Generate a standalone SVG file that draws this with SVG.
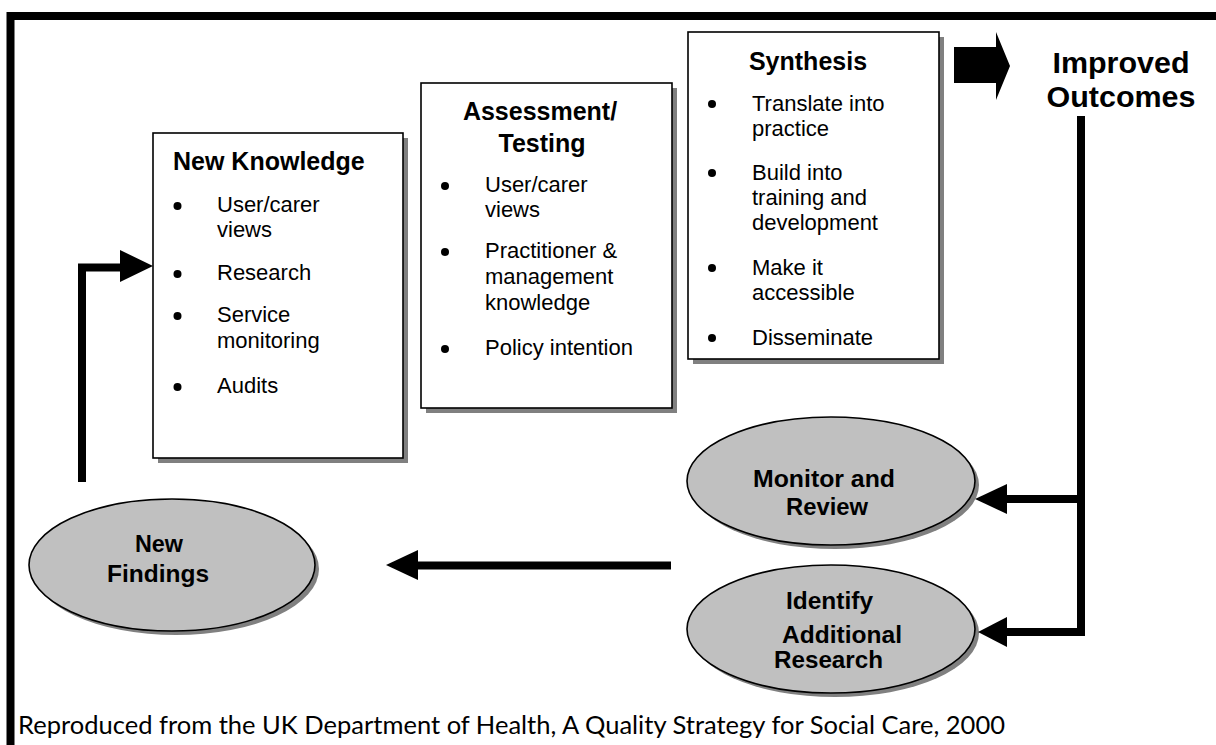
<svg xmlns="http://www.w3.org/2000/svg" width="1216" height="745" viewBox="0 0 1216 745">
  <style>
    .box { fill: #ffffff; stroke: #000000; stroke-width: 1.6; }
    .shadow { fill: #808080; }
    .oval { fill: #c0c0c0; stroke: #000000; stroke-width: 1.6; }
    .title { font-family: "Liberation Sans", Arial, sans-serif; font-weight: bold; font-size: 25px; fill: #000; }
    .item { font-family: "Liberation Sans", Arial, sans-serif; font-size: 22px; fill: #000; }
    .olabel { font-family: "Liberation Sans", Arial, sans-serif; font-weight: bold; font-size: 24px; fill: #000; }
    .big { font-family: "Liberation Sans", Arial, sans-serif; font-weight: bold; font-size: 29px; fill: #000; }
    .note { font-family: "Lato", "Liberation Sans", sans-serif; font-size: 25px; fill: #000; }
    .wire { fill: none; stroke: #000000; stroke-width: 8; }
    .head { fill: #000000; }
  </style>

  <rect width="1216" height="745" fill="#ffffff"/>

  <!-- page frame -->
  <path d="M10.5 745 V16 H1216" fill="none" stroke="#000" stroke-width="8"/>

  <!-- New Knowledge -->
  <g id="new-knowledge">
    <rect class="shadow" x="158" y="138" width="250" height="325"/>
    <rect class="box" x="153" y="133" width="250" height="325"/>
    <text class="title" x="173" y="170">New Knowledge</text>
    <circle cx="177.5" cy="206" r="4"/>
    <text class="item" x="217" y="212">User/carer</text>
    <text class="item" x="217" y="237">views</text>
    <circle cx="177.5" cy="274" r="4"/>
    <text class="item" x="217" y="280">Research</text>
    <circle cx="177.5" cy="316" r="4"/>
    <text class="item" x="217" y="322">Service</text>
    <text class="item" x="217" y="348">monitoring</text>
    <circle cx="177.5" cy="387" r="4"/>
    <text class="item" x="217" y="393">Audits</text>
  </g>

  <!-- Assessment / Testing -->
  <g id="assessment">
    <rect class="shadow" x="426" y="88" width="251" height="325"/>
    <rect class="box" x="421" y="83" width="251" height="325"/>
    <text class="title" x="540" y="120" text-anchor="middle">Assessment/</text>
    <text class="title" x="542" y="152" text-anchor="middle">Testing</text>
    <circle cx="445" cy="186" r="4"/>
    <text class="item" x="485" y="192">User/carer</text>
    <text class="item" x="485" y="217">views</text>
    <circle cx="445" cy="252" r="4"/>
    <text class="item" x="485" y="258">Practitioner &amp;</text>
    <text class="item" x="485" y="284">management</text>
    <text class="item" x="485" y="310">knowledge</text>
    <circle cx="445" cy="349" r="4"/>
    <text class="item" x="485" y="355">Policy intention</text>
  </g>

  <!-- Synthesis -->
  <g id="synthesis">
    <rect class="shadow" x="693" y="37" width="251" height="327"/>
    <rect class="box" x="688" y="32" width="251" height="327"/>
    <text class="title" x="808" y="70" text-anchor="middle" font-size="24">Synthesis</text>
    <circle cx="712" cy="104" r="4"/>
    <text class="item" x="752" y="111">Translate into</text>
    <text class="item" x="752" y="136">practice</text>
    <circle cx="712" cy="173" r="4"/>
    <text class="item" x="752" y="180">Build into</text>
    <text class="item" x="752" y="205">training and</text>
    <text class="item" x="752" y="230">development</text>
    <circle cx="712" cy="268" r="4"/>
    <text class="item" x="752" y="275">Make it</text>
    <text class="item" x="752" y="300">accessible</text>
    <circle cx="712" cy="338" r="4"/>
    <text class="item" x="752" y="345">Disseminate</text>
  </g>

  <!-- Improved Outcomes -->
  <g id="improved-outcomes">
    <text class="big" x="1121" y="73" text-anchor="middle" textLength="137" lengthAdjust="spacingAndGlyphs">Improved</text>
    <text class="big" x="1121" y="107" text-anchor="middle" textLength="149" lengthAdjust="spacingAndGlyphs">Outcomes</text>
  </g>

  <!-- Monitor and Review -->
  <g id="monitor-review">
    <ellipse class="shadow" cx="835" cy="485" rx="144" ry="64"/>
    <ellipse class="oval" cx="831" cy="481" rx="144" ry="64"/>
    <text class="olabel" x="753" y="487" textLength="142" lengthAdjust="spacingAndGlyphs">Monitor and</text>
    <text class="olabel" x="786" y="515" textLength="82" lengthAdjust="spacingAndGlyphs">Review</text>
  </g>

  <!-- Identify Additional Research -->
  <g id="identify-research">
    <ellipse class="shadow" cx="835" cy="633" rx="144" ry="64"/>
    <ellipse class="oval" cx="831" cy="629" rx="144" ry="64"/>
    <text class="olabel" x="786" y="609" textLength="87" lengthAdjust="spacingAndGlyphs">Identify</text>
    <text class="olabel" x="782" y="643" font-size="22" textLength="120" lengthAdjust="spacingAndGlyphs">Additional</text>
    <text class="olabel" x="774" y="668" font-size="22" textLength="109" lengthAdjust="spacingAndGlyphs">Research</text>
  </g>

  <!-- New Findings -->
  <g id="new-findings">
    <ellipse class="shadow" cx="176" cy="569" rx="143" ry="66"/>
    <ellipse class="oval" cx="172" cy="565" rx="143" ry="66"/>
    <text class="olabel" x="135" y="552" textLength="48" lengthAdjust="spacingAndGlyphs">New</text>
    <text class="olabel" x="107" y="582" textLength="102" lengthAdjust="spacingAndGlyphs">Findings</text>
  </g>

  <!-- connectors -->
  <g id="connectors">
    <!-- Synthesis to Improved Outcomes: block arrow -->
    <polygon class="head" points="954,47 996,47 996,32 1010,66 996,100 996,83 954,83"/>
    <!-- Improved Outcomes down to the two review ovals -->
    <path class="wire" d="M1081 116 V636"/>
    <path class="wire" d="M1085 499 H1005"/>
    <polygon class="head" points="975,499 1007,484 1007,514"/>
    <path class="wire" d="M1085 632 H1005"/>
    <polygon class="head" points="978,632 1007,617 1007,647"/>
    <!-- back towards New Findings -->
    <path class="wire" d="M671 565.5 H416"/>
    <polygon class="head" points="386,565 418,550 418,580"/>
    <!-- New Findings up into New Knowledge -->
    <path class="wire" d="M82 482 V267.5 H122"/>
    <polygon class="head" points="153,266 120,250 120,282"/>
  </g>

  <text class="note" x="18" y="734" textLength="987" lengthAdjust="spacingAndGlyphs">Reproduced from the UK Department of Health, A Quality Strategy for Social Care, 2000</text>
</svg>
